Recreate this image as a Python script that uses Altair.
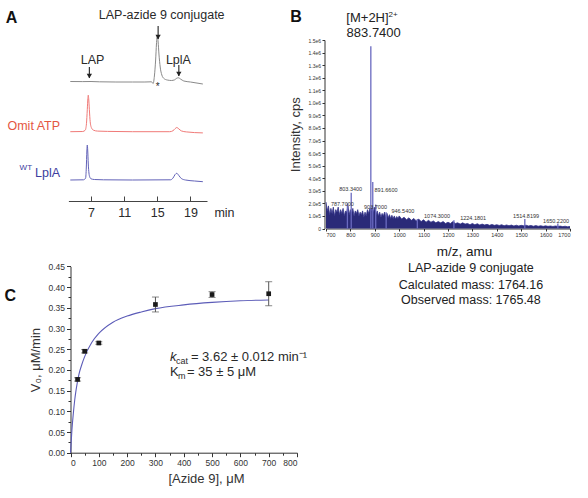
import altair as alt
import pandas as pd

# ---------------- Panel A: HPLC traces ----------------
a_ticks = [7, 11, 15, 19]
conj_time = [4.5, 6.0, 7.0, 8.0, 10.0, 12.0, 13.5, 14.3, 14.5, 14.65, 14.8, 14.9, 15.0, 15.1, 15.2, 15.35, 15.55, 15.8, 16.2, 16.7, 17.1, 17.35, 17.55, 17.8, 18.2, 19.0, 20.5]
conj_abs = [0.05, 0.04, 0.05, 0.02, 0.0, 0.0, 0.0, 0.02, -0.15, 0.6, 2.2, 3.8, 4.7, 4.0, 2.8, 1.5, 0.7, 0.35, 0.2, 0.15, 0.22, 0.38, 0.42, 0.3, 0.1, 0.0, -0.2]
omit_time = [4.5, 6.0, 6.3, 6.45, 6.55, 6.62, 6.67, 6.72, 6.8, 6.9, 7.05, 7.3, 7.8, 9.0, 12.0, 16.5, 16.9, 17.15, 17.35, 17.6, 17.9, 18.5, 20.5]
omit_abs = [0.0, 0.02, 0.15, 0.8, 2.2, 3.3, 3.65, 3.3, 2.2, 1.0, 0.4, 0.15, 0.06, 0.03, 0.0, 0.0, 0.1, 0.3, 0.42, 0.28, 0.08, -0.02, -0.12]
wt_time = [4.5, 6.1, 6.35, 6.43, 6.5, 6.55, 6.6, 6.67, 6.75, 6.85, 7.0, 7.4, 8.5, 12.0, 16.6, 16.9, 17.15, 17.35, 17.6, 17.9, 18.4, 19.5, 20.5]
wt_abs = [0.0, 0.02, 0.2, 1.2, 2.9, 3.5, 3.0, 1.6, 0.7, 0.3, 0.12, 0.05, 0.02, 0.0, 0.02, 0.2, 0.55, 0.67, 0.45, 0.15, 0.0, -0.1, -0.17]

arrow_time = [6.8, 15.1, 17.6]
arrow_top = [1.5, 5.6, 1.7]
arrow_tip = [0.4, 4.3, 0.6]
a_label_text = ["LAP-azide 9 conjugate", "LAP", "LplA"]
a_label_time = [15.53, 7.18, 17.55]
a_label_abs = [6.7, 2.2, 2.2]

# ---------------- Panel B: mass spectrum ----------------
ms_mz = list(range(700, 1001, 5)) + list(range(1010, 1701, 10))
ms_noise = [
    2.1, 1.4, 1.8, 1.1, 1.6, 1.2, 1.7, 1.0, 1.5, 1.3, 1.7, 1.1, 1.5, 1.2, 1.6, 1.0,
    1.4, 1.3, 1.8, 1.1, 1.5, 1.2, 1.6, 1.0, 1.4, 1.2, 1.5, 1.0, 1.3, 1.1, 1.4, 0.9,
    1.3, 1.0, 1.5, 1.2, 1.6, 1.4, 1.8, 1.3, 1.7, 1.1, 1.4, 1.0, 1.3, 0.9, 1.2, 1.0,
    1.3, 0.9, 1.2, 0.85, 1.1, 0.8, 1.05, 0.8, 1.0, 0.75, 0.95, 0.8, 1.0,
    0.75, 0.9, 0.7, 0.85, 0.65, 0.8, 0.6, 0.75, 0.55, 0.7, 0.5, 0.65, 0.5, 0.6, 0.45,
    0.55, 0.45, 0.55, 0.4, 0.5, 0.4, 0.55, 0.4, 0.45, 0.35, 0.45, 0.35, 0.4, 0.3, 0.4,
    0.3, 0.38, 0.28, 0.35, 0.28, 0.33, 0.25, 0.32, 0.25, 0.3, 0.24, 0.3, 0.22, 0.28,
    0.22, 0.27, 0.2, 0.26, 0.2, 0.25, 0.22, 0.26, 0.2, 0.24, 0.18, 0.23, 0.18, 0.22,
    0.17, 0.21, 0.17, 0.2, 0.16, 0.2, 0.17, 0.19, 0.15, 0.18, 0.14, 0.16,
]  # x 1e5 cps
peak_mz = [787.70, 803.34, 883.74, 891.66, 903.70, 946.54, 1074.30, 1224.18, 1514.82, 1650.22]
peak_cps = [2.0e5, 2.85e5, 1.45e6, 3.7e5, 1.9e5, 1.3e5, 0.75e5, 0.65e5, 0.76e5, 0.4e5]
peak_label = ["787.7000", "803.3400", "891.6600", "903.7000", "946.5400",
              "1074.3000", "1224.1801", "1514.8199", "1650.2200"]
peak_label_mz = [767, 801, 946, 903, 1015, 1155, 1303, 1520, 1643]
peak_label_cps = [1.95e5, 3.12e5, 3.04e5, 1.69e5, 1.42e5, 0.97e5, 0.86e5, 1.02e5, 0.57e5]
ms_y_ticks = [i * 1e5 for i in range(16)]
ms_x_ticks = list(range(700, 1701, 100))
ms_info = ["LAP-azide 9 conjugate", "Calculated mass: 1764.16", "Observed mass: 1765.48"]
ms_info_cps = [-3.14e5, -4.49e5, -5.69e5]

# ---------------- Panel C: kinetics ----------------
azide_uM = [25, 50, 100, 300, 500, 700]
v0 = [0.177, 0.245, 0.265, 0.358, 0.382, 0.384]
v0_err = [0.004, 0.004, 0.003, 0.018, 0.007, 0.029]
fit_uM = [0, 5, 10, 15, 20, 30, 40, 50, 75, 100, 150, 200, 250, 300, 400, 500, 600, 700]
fit_v0 = [0.0, 0.055, 0.095, 0.128, 0.153, 0.19, 0.213, 0.232, 0.266, 0.288, 0.315,
          0.33, 0.34, 0.348, 0.357, 0.363, 0.367, 0.369]
c_x_ticks = list(range(0, 801, 100))
c_x_minor = list(range(50, 800, 100))
c_y_ticks = [round(0.05 * i, 2) for i in range(10)]
c_y_minor = [round(0.025 + 0.05 * i, 3) for i in range(9)]

FONT = "Liberation Sans"
DARK = "#2a2a2a"


def lin(domain, rng):
    return alt.Scale(domain=domain, range=rng, nice=False, zero=False)


A_X = lin([4.27, 21.0], [68.4, 207.0])
A_Y1 = lin([0, 5], [82, 32])
A_Y2 = lin([0, 5], [131.7, 81.7])
A_Y3 = lin([0, 5], [180, 130])
B_X = lin([700, 1700], [326, 570])
B_Y = lin([0, 1.5e6], [228.5, 40])
C_X = lin([0, 800], [70.5, 297])
C_Y = lin([0, 0.45], [452.7, 266.4])


def xy(chart, xf, yf, xs, ys, xaxis=None, yaxis=None, **extra):
    return chart.encode(
        x=alt.X(xf, type="quantitative", scale=xs, axis=xaxis),
        y=alt.Y(yf, type="quantitative", scale=ys, axis=yaxis),
        **extra,
    )


def label(texts, xs_vals, ys_vals, xs, ys, **kw):
    df = pd.DataFrame({"x": xs_vals, "y": ys_vals, "t": texts})
    base = dict(font=FONT, fontSize=12.5, color=DARK, baseline="middle")
    base.update(kw)
    return xy(alt.Chart(df).mark_text(**base), "x", "y", xs, ys, text="t:N")


layers = []

# ---------- Panel A ----------
a_top_axis = alt.Axis(orient="top", offset=-201, labels=False, ticks=True, tickSize=5,
                      domain=True, grid=False, title=None, values=a_ticks,
                      domainColor="#444", tickColor="#444")
a_bottom_axis = alt.Axis(orient="bottom", offset=-297, labels=True, ticks=False,
                         domain=False, grid=False, values=a_ticks, labelPadding=5,
                         labelFontSize=12.5, labelColor=DARK, title="min",
                         titleX=224, titleY=11, titleBaseline="middle", titleFontSize=12.5,
                         titleColor=DARK, titleFontWeight="normal")

layers.append(xy(alt.Chart(pd.DataFrame({"t": conj_time, "a": conj_abs}))
                 .mark_line(color="#8a8a8a", strokeWidth=1, interpolate="monotone"),
                 "t", "a", A_X, A_Y1, xaxis=a_top_axis))
arr_df = pd.DataFrame({"t": arrow_time, "top": arrow_top, "tip": arrow_tip})
layers.append(alt.Chart(arr_df).mark_rule(color="#222", strokeWidth=1.1).encode(
    x=alt.X("t:Q", scale=A_X, axis=None),
    y=alt.Y("top:Q", scale=A_Y1, axis=None),
    y2="tip:Q",
))
layers.append(xy(alt.Chart(arr_df).mark_point(shape="triangle-down", filled=True, color="#222",
                                              size=28, opacity=1, yOffset=-2),
                 "t", "tip", A_X, A_Y1))
layers.append(label(a_label_text, a_label_time, a_label_abs, A_X, A_Y1, fontSize=12.5))
layers.append(label(["*"], [15.05], [-0.45], A_X, A_Y1, fontSize=10))
layers.append(label(["A"], [-2.6], [6.4], A_X, A_Y1, fontSize=16, fontWeight="bold", color="#111"))

layers.append(xy(alt.Chart(pd.DataFrame({"t": omit_time, "a": omit_abs}))
                 .mark_line(color="#f07a78", strokeWidth=1, interpolate="monotone"),
                 "t", "a", A_X, A_Y2))
layers.append(label(["Omit ATP"], [3.26], [0.57], A_X, A_Y2, align="right", color="#e4573f"))

layers.append(xy(alt.Chart(pd.DataFrame({"t": wt_time, "a": wt_abs}))
                 .mark_line(color="#6262b8", strokeWidth=1, interpolate="monotone"),
                 "t", "a", A_X, A_Y3, xaxis=a_bottom_axis))
layers.append(label(["LplA"], [3.26], [0.7], A_X, A_Y3, align="right", color="#3d3d9e"))
layers.append(label(["WT"], [3.26], [0.7], A_X, A_Y3, align="right", color="#3d3d9e",
                    fontSize=8, dx=-28, dy=-5))

# ---------- Panel B ----------
b_x_axis = alt.Axis(orient="bottom", offset=-269.5, values=ms_x_ticks, format="d",
                    labelFontSize=5.5, tickSize=2.5, labelPadding=1.5, grid=False,
                    title="m/z, amu", titleFontSize=13.5, titleX=464, titlePadding=6,
                    titleColor="#1a1a1a")
b_y_axis = alt.Axis(orient="left", offset=-324.5, values=ms_y_ticks, labelFontSize=5,
                    tickSize=2.5, labelPadding=1.5, grid=False, title="Intensity, cps",
                    titleFontSize=13, titlePadding=5, titleColor="#333",
                    labelExpr="datum.value == 0 ? '0' : replace(format(datum.value, '.1e'), '+', '')")

noise_df = pd.DataFrame({"mz": ms_mz, "cps": [v * 1e5 for v in ms_noise]})
layers.append(xy(alt.Chart(noise_df).mark_area(color="#2a2a78", opacity=1,
                                               line={"color": "#34348a", "strokeWidth": 0.8}),
                 "mz", "cps", B_X, B_Y, xaxis=b_x_axis, yaxis=b_y_axis))
layers.append(alt.Chart(pd.DataFrame({"mz": peak_mz, "cps": peak_cps})).mark_rule(
    color="#6a6ac0", strokeWidth=1.3).encode(
    x=alt.X("mz:Q", scale=B_X, axis=None),
    y=alt.Y("cps:Q", scale=B_Y, axis=None),
    y2=alt.datum(0),
))
layers.append(label(peak_label, peak_label_mz, peak_label_cps, B_X, B_Y, fontSize=5.5, color="#333"))
layers.append(label(["[M+2H]"], [870], [1.672e6], B_X, B_Y, fontSize=13, color="#222"))
layers.append(label(["2+"], [870], [1.672e6], B_X, B_Y, fontSize=8, color="#222",
                    align="left", dx=21, dy=-3))
layers.append(label(["883.7400"], [895.5], [1.553e6], B_X, B_Y, fontSize=13, color="#222"))
layers.append(label(ms_info, [1294, 1294, 1294], ms_info_cps, B_X, B_Y, fontSize=12.5, color="#222"))
layers.append(label(["B"], [577], [1.683e6], B_X, B_Y, fontSize=16, fontWeight="bold", color="#111"))

# ---------- Panel C ----------
c_x_axis = alt.Axis(orient="bottom", offset=-45.3, values=c_x_ticks, labelFontSize=8.5,
                    tickSize=4, labelPadding=2, grid=False, title="[Azide 9], μM",
                    titleFontSize=13, titleX=206, titlePadding=5, titleColor="#333")
c_y_axis = alt.Axis(orient="left", offset=-70.5, values=c_y_ticks, format=".2f",
                    labelFontSize=8.5, tickSize=4, labelPadding=2, grid=False,
                    title="V₀, μM/min", titleFontSize=13, titlePadding=5, titleColor="#333")
c_x_minor_axis = alt.Axis(orient="bottom", offset=-45.3, values=c_x_minor, labels=False,
                          domain=False, tickSize=2.5, grid=False, title=None)
c_y_minor_axis = alt.Axis(orient="left", offset=-70.5, values=c_y_minor, labels=False,
                          domain=False, tickSize=2.5, grid=False, title=None)

layers.append(xy(alt.Chart(pd.DataFrame({"c": fit_uM, "v": fit_v0}))
                 .mark_line(color="#5c5cb8", strokeWidth=1.1, interpolate="monotone"),
                 "c", "v", C_X, C_Y, xaxis=c_x_minor_axis, yaxis=c_y_minor_axis))

kin_df = pd.DataFrame({"c": azide_uM, "v": v0,
                       "lo": [a - b for a, b in zip(v0, v0_err)],
                       "hi": [a + b for a, b in zip(v0, v0_err)]})
layers.append(alt.Chart(kin_df).mark_rule(color="#555", strokeWidth=1).encode(
    x=alt.X("c:Q", scale=C_X, axis=None),
    y=alt.Y("lo:Q", scale=C_Y, axis=None),
    y2="hi:Q",
))
layers.append(xy(alt.Chart(kin_df).mark_tick(orient="horizontal", size=7, thickness=1, color="#555"),
                 "c", "lo", C_X, C_Y))
layers.append(xy(alt.Chart(kin_df).mark_tick(orient="horizontal", size=7, thickness=1, color="#555"),
                 "c", "hi", C_X, C_Y))
layers.append(xy(alt.Chart(kin_df).mark_square(color="#1a1a1a", size=22, opacity=1),
                 "c", "v", C_X, C_Y, xaxis=c_x_axis, yaxis=c_y_axis))
k_anchor_x = [351]
layers.append(label(["k"], k_anchor_x, [0.231], C_X, C_Y, align="left", fontStyle="italic", fontSize=13))
layers.append(label(["cat"], k_anchor_x, [0.231], C_X, C_Y, align="left", fontSize=9, dx=6, dy=4))
layers.append(label(["= 3.62 ± 0.012 min⁻¹"], k_anchor_x, [0.231], C_X, C_Y, align="left",
                    fontSize=13, dx=21))
layers.append(label(["K"], k_anchor_x, [0.194], C_X, C_Y, align="left", fontSize=13))
layers.append(label(["m"], k_anchor_x, [0.194], C_X, C_Y, align="left", fontSize=9, dx=8, dy=4))
layers.append(label(["= 35 ± 5 μM"], k_anchor_x, [0.194], C_X, C_Y, align="left", fontSize=13, dx=17))
layers.append(label(["C"], [-213], [0.378], C_X, C_Y, fontSize=16, fontWeight="bold", color="#111"))

chart = (
    alt.layer(*layers)
    .resolve_scale(x="independent", y="independent")
    .properties(width=588, height=498, autosize=alt.AutoSizeParams(type="none"), padding=0)
    .configure_view(stroke=None)
    .configure_axis(labelFont=FONT, titleFont=FONT, titleFontWeight="normal",
                    labelColor="#333", domainColor="#333", tickColor="#333")
)

chart.save("out.html", embed_options={"renderer": "svg", "actions": False})
